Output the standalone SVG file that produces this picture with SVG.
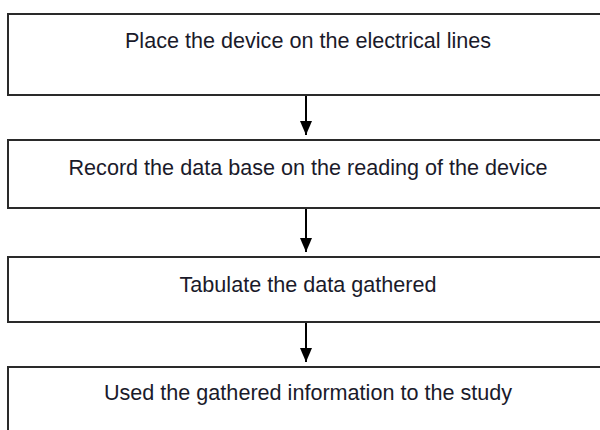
<svg xmlns="http://www.w3.org/2000/svg" width="600" height="430" viewBox="0 0 600 430">
<style>
.box{fill:#fff;stroke:#2a2a2a;stroke-width:2}
.lbl{font-family:"Liberation Sans",Arial,sans-serif;font-size:21.6px;fill:#1a1a2a;text-anchor:middle}
.con{stroke:#000;stroke-width:2;fill:none}
</style>
<defs>
<marker id="ah" viewBox="0 0 12 14" refX="6" refY="14" markerWidth="12" markerHeight="14" markerUnits="userSpaceOnUse" orient="0">
<path d="M0,0 L12,0 L6,14 z" fill="#000"/>
</marker>
</defs>
<rect width="600" height="430" fill="#fff"/>
<g id="n1"><rect class="box" x="8" y="14" width="600" height="81"/><text class="lbl" x="308" y="48">Place the device on the electrical lines</text></g>
<g id="n2"><rect class="box" x="8" y="140" width="600" height="68"/><text class="lbl" x="308" y="175">Record the data base on the reading of the device</text></g>
<g id="n3"><rect class="box" x="8" y="257" width="600" height="65"/><text class="lbl" x="308" y="292">Tabulate the data gathered</text></g>
<g id="n4"><rect class="box" x="8" y="367" width="600" height="80"/><text class="lbl" x="308" y="400">Used the gathered information to the study</text></g>
<g id="connectors">
<path class="con" d="M306,96 V135" marker-end="url(#ah)"/>
<path class="con" d="M306,209 V252" marker-end="url(#ah)"/>
<path class="con" d="M306,323 V362" marker-end="url(#ah)"/>
</g>
</svg>
